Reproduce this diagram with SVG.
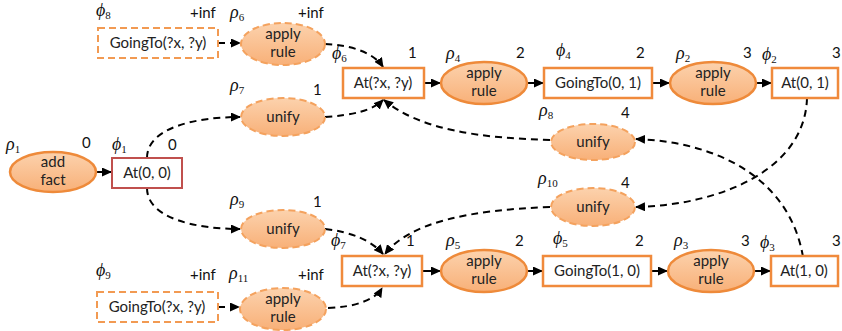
<svg xmlns="http://www.w3.org/2000/svg" width="842" height="331" viewBox="0 0 842 331">
<style>
.box{fill:#fff;stroke:#f08a3c;stroke-width:2.5}
.dbox{fill:#fff;stroke:#f29a52;stroke-width:2;stroke-dasharray:7,4}
.red{fill:#fff;stroke:#c0504d;stroke-width:2}
.ell{fill:url(#g);stroke:#ee8a3a;stroke-width:2.5}
.dell{fill:url(#g);stroke:#f4a25e;stroke-width:2;stroke-dasharray:7,4}
.t{font-family:Lato,"Open Sans","Liberation Sans",sans-serif;font-size:15px;fill:#222;text-anchor:middle}
.n{font-family:Lato,"Open Sans","Liberation Sans",sans-serif;font-size:15px;fill:#111}
.m{font-family:"Liberation Serif","DejaVu Serif",serif;font-style:italic;font-size:18px;fill:#111}
.s{font-style:normal;font-size:11px}
.sol{fill:none;stroke:#000;stroke-width:2;marker-end:url(#a)}
.das{fill:none;stroke:#000;stroke-width:2;stroke-dasharray:7,5;marker-end:url(#a)}
</style>
<defs>
<linearGradient id="g" x1="0" y1="0" x2="0" y2="1">
<stop offset="0" stop-color="#fcd2ad"/>
<stop offset="1" stop-color="#f8b078"/>
</linearGradient>
<marker id="a" markerUnits="userSpaceOnUse" markerWidth="10" markerHeight="9" refX="9" refY="4.5" orient="auto">
<path d="M0,0 L10,4.5 L0,9 z" fill="#000"/>
</marker>
</defs>

<g id="connectors">
<path class="sol" d="M97,172 L111,172"/>
<path class="sol" d="M424,83 L440,83"/>
<path class="sol" d="M527,83 L543,83"/>
<path class="sol" d="M652,83 L669,83"/>
<path class="sol" d="M756,83 L771,83"/>
<path class="sol" d="M422,271 L440,271"/>
<path class="sol" d="M527,271 L542,271"/>
<path class="sol" d="M651,271 L667,271"/>
<path class="sol" d="M753,271 L770,271"/>
<path class="das" d="M218,43 L240,43"/>
<path class="das" d="M218,307 L239,307"/>
<path class="das" d="M325,44 C352,45 374,53 383,67"/>
<path class="das" d="M147,158 C147,128 195,117 240,117"/>
<path class="das" d="M147,188 C147,218 195,229 240,229"/>
<path class="das" d="M325,117 C352,115 372,111 383,100"/>
<path class="das" d="M550,140 C480,138 420,130 384,100"/>
<path class="das" d="M807,98 C805,170 720,205 636,207"/>
<path class="das" d="M803,257 C790,180 720,142 636,139"/>
<path class="das" d="M325,229 C352,232 372,241 383,254"/>
<path class="das" d="M550,207 C470,210 410,222 385,254"/>
<path class="das" d="M328,308 C355,307 375,300 382,288"/>
</g>

<g id="phi8"><rect class="dbox" x="98" y="28" width="120" height="30"/><text class="t" x="158" y="48">GoingTo(?x, ?y)</text>
<text class="m" x="96" y="16">ϕ<tspan class="s" dy="3">8</tspan></text><text class="n" x="190" y="18">+inf</text></g>
<g id="rho6"><ellipse class="dell" cx="283" cy="44" rx="42" ry="21"/><text class="t" x="283" y="39">apply</text><text class="t" x="283" y="57">rule</text>
<text class="m" x="230" y="18">ρ<tspan class="s" dy="3">6</tspan></text><text class="n" x="298" y="18">+inf</text></g>

<g id="phi6"><rect class="box" x="343" y="68" width="81" height="30"/><text class="t" x="383" y="88">At(?x, ?y)</text>
<text class="m" x="332" y="59">ϕ<tspan class="s" dy="3">6</tspan></text><text class="n" x="408" y="58">1</text></g>
<g id="rho4"><ellipse class="ell" cx="484" cy="83" rx="43" ry="21"/><text class="t" x="484" y="78">apply</text><text class="t" x="484" y="96">rule</text>
<text class="m" x="446" y="59">ρ<tspan class="s" dy="3">4</tspan></text><text class="n" x="516" y="58">2</text></g>
<g id="phi4"><rect class="box" x="544" y="68" width="108" height="30"/><text class="t" x="598" y="88">GoingTo(0, 1)</text>
<text class="m" x="556" y="56">ϕ<tspan class="s" dy="3">4</tspan></text><text class="n" x="636" y="58">2</text></g>
<g id="rho2"><ellipse class="ell" cx="713" cy="83" rx="43" ry="21"/><text class="t" x="713" y="78">apply</text><text class="t" x="713" y="96">rule</text>
<text class="m" x="676" y="59">ρ<tspan class="s" dy="3">2</tspan></text><text class="n" x="743" y="58">3</text></g>
<g id="phi2"><rect class="box" x="772" y="68" width="66" height="30"/><text class="t" x="805" y="88">At(0, 1)</text>
<text class="m" x="762" y="60">ϕ<tspan class="s" dy="3">2</tspan></text><text class="n" x="832" y="58">3</text></g>

<g id="rho1"><ellipse class="ell" cx="53" cy="172" rx="43" ry="20"/><text class="t" x="53" y="167">add</text><text class="t" x="53" y="185">fact</text>
<text class="m" x="6" y="150">ρ<tspan class="s" dy="3">1</tspan></text><text class="n" x="82" y="148">0</text></g>
<g id="phi1"><rect class="red" x="112" y="158" width="70" height="30"/><text class="t" x="147" y="178">At(0, 0)</text>
<text class="m" x="112" y="150">ϕ<tspan class="s" dy="3">1</tspan></text><text class="n" x="168" y="150">0</text></g>

<g id="rho7"><ellipse class="dell" cx="283" cy="117" rx="42" ry="19"/><text class="t" x="283" y="122">unify</text>
<text class="m" x="230" y="91">ρ<tspan class="s" dy="3">7</tspan></text><text class="n" x="313" y="95">1</text></g>
<g id="rho9"><ellipse class="dell" cx="283" cy="229" rx="42" ry="19"/><text class="t" x="283" y="234">unify</text>
<text class="m" x="230" y="205">ρ<tspan class="s" dy="3">9</tspan></text><text class="n" x="313" y="207">1</text></g>
<g id="rho8"><ellipse class="dell" cx="593" cy="142" rx="42" ry="18"/><text class="t" x="593" y="147">unify</text>
<text class="m" x="539" y="116">ρ<tspan class="s" dy="3">8</tspan></text><text class="n" x="621" y="118">4</text></g>
<g id="rho10"><ellipse class="dell" cx="593" cy="207" rx="42" ry="19"/><text class="t" x="593" y="212">unify</text>
<text class="m" x="538" y="184">ρ<tspan class="s" dy="3">10</tspan></text><text class="n" x="621" y="188">4</text></g>

<g id="phi7"><rect class="box" x="342" y="256" width="80" height="30"/><text class="t" x="382" y="276">At(?x, ?y)</text>
<text class="m" x="331" y="246">ϕ<tspan class="s" dy="3">7</tspan></text><text class="n" x="406" y="246">1</text></g>
<g id="rho5"><ellipse class="ell" cx="484" cy="271" rx="43" ry="21"/><text class="t" x="484" y="266">apply</text><text class="t" x="484" y="284">rule</text>
<text class="m" x="446" y="246">ρ<tspan class="s" dy="3">5</tspan></text><text class="n" x="515" y="246">2</text></g>
<g id="phi5"><rect class="box" x="543" y="256" width="108" height="30"/><text class="t" x="597" y="276">GoingTo(1, 0)</text>
<text class="m" x="553" y="244">ϕ<tspan class="s" dy="3">5</tspan></text><text class="n" x="635" y="246">2</text></g>
<g id="rho3"><ellipse class="ell" cx="711" cy="271" rx="43" ry="21"/><text class="t" x="711" y="266">apply</text><text class="t" x="711" y="284">rule</text>
<text class="m" x="674" y="246">ρ<tspan class="s" dy="3">3</tspan></text><text class="n" x="741" y="246">3</text></g>
<g id="phi3"><rect class="box" x="771" y="256" width="67" height="30"/><text class="t" x="804" y="276">At(1, 0)</text>
<text class="m" x="760" y="248">ϕ<tspan class="s" dy="3">3</tspan></text><text class="n" x="832" y="246">3</text></g>

<g id="phi9"><rect class="dbox" x="97" y="292" width="121" height="30"/><text class="t" x="157" y="312">GoingTo(?x, ?y)</text>
<text class="m" x="96" y="276">ϕ<tspan class="s" dy="3">9</tspan></text><text class="n" x="190" y="280">+inf</text></g>
<g id="rho11"><ellipse class="dell" cx="283" cy="309" rx="43" ry="21"/><text class="t" x="283" y="304">apply</text><text class="t" x="283" y="322">rule</text>
<text class="m" x="229" y="279">ρ<tspan class="s" dy="3">11</tspan></text><text class="n" x="298" y="280">+inf</text></g>
</svg>
